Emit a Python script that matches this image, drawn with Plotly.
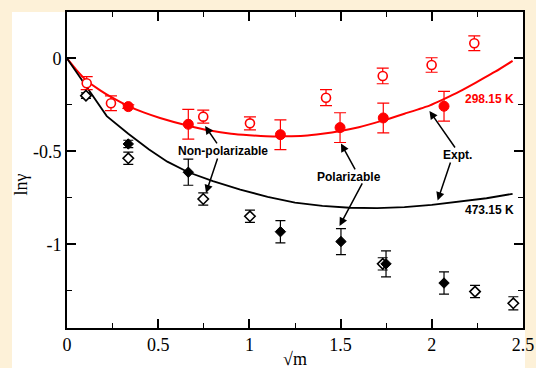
import plotly.graph_objects as go

# ---------------- data ----------------
# Non-polarizable, 298.15 K (red open circles)
np298_x = [0.108, 0.241, 0.747, 1.003, 1.42, 1.731, 1.999, 2.233]
np298_y = [-0.133, -0.241, -0.313, -0.349, -0.211, -0.094, -0.035, 0.082]
np298_err = [0.035, 0.04, 0.035, 0.035, 0.043, 0.042, 0.039, 0.04]

# Polarizable, 298.15 K (red filled circles)
p298_x = [0.336, 0.665, 1.17, 1.497, 1.734, 2.067]
p298_y = [-0.259, -0.354, -0.41, -0.372, -0.32, -0.257]
p298_err = [0.01, 0.08, 0.08, 0.08, 0.08, 0.08]

# Non-polarizable, 473.15 K (black open diamonds)
np473_x = [0.104, 0.336, 0.747, 1.003, 1.731, 2.237, 2.447]
np473_y = [-0.2, -0.537, -0.756, -0.849, -1.105, -1.254, -1.317]
np473_err = [0.015, 0.033, 0.033, 0.033, 0.033, 0.033, 0.035]

# Polarizable, 473.15 K (black filled diamonds)
p473_x = [0.336, 0.665, 1.17, 1.502, 1.749, 2.067]
p473_y = [-0.46, -0.612, -0.932, -0.985, -1.105, -1.208]
p473_err = [0.02, 0.07, 0.06, 0.07, 0.07, 0.06]

# Experimental curves
expt298_x = [0, 0.05, 0.108, 0.18, 0.241, 0.336, 0.42, 0.51, 0.665, 0.784, 0.9, 1.0,
             1.091, 1.2, 1.3, 1.4, 1.5, 1.6, 1.734, 1.85, 1.99, 2.063, 2.153, 2.25, 2.35, 2.443]
expt298_y = [0, -0.06, -0.12, -0.17, -0.207, -0.256, -0.29, -0.32, -0.362, -0.388, -0.405, -0.413,
             -0.418, -0.419, -0.416, -0.405, -0.39, -0.37, -0.333, -0.297, -0.252, -0.22, -0.177,
             -0.125, -0.07, -0.013]

expt473_x = [0, 0.218, 0.336, 0.45, 0.55, 0.665, 0.8, 0.95, 1.1, 1.25, 1.4, 1.55, 1.7,
             1.85, 2.0, 2.15, 2.3, 2.443]
expt473_y = [0, -0.31, -0.405, -0.49, -0.555, -0.612, -0.66, -0.705, -0.745, -0.775, -0.793,
             -0.803, -0.805, -0.8, -0.788, -0.772, -0.752, -0.728]

x_tickvals = [0, 0.5, 1, 1.5, 2, 2.5]
x_ticktext = ["0", "0.5", "1", "1.5", "2", "2.5"]
y_tickvals = [0, -0.5, -1]
y_ticktext = ["0", "-0.5", "-1"]

RED = "#ff0000"
BLACK = "#000000"
SERIF = "Liberation Serif, Times New Roman, serif"
SANS = "Liberation Sans, Arial, sans-serif"

fig = go.Figure()

fig.add_trace(go.Scatter(x=expt298_x, y=expt298_y, mode="lines",
                         line=dict(color=RED, width=2, shape="spline", smoothing=0.6),
                         showlegend=False, hoverinfo="skip"))
fig.add_trace(go.Scatter(x=expt473_x, y=expt473_y, mode="lines",
                         line=dict(color=BLACK, width=1.8),
                         showlegend=False, hoverinfo="skip"))

fig.add_trace(go.Scatter(x=np298_x, y=np298_y, mode="markers",
                         marker=dict(symbol="circle", size=9, color="white",
                                     line=dict(color=RED, width=1.6)),
                         error_y=dict(type="data", array=np298_err, color=RED,
                                      thickness=1.2, width=6),
                         showlegend=False))
fig.add_trace(go.Scatter(x=p298_x, y=p298_y, mode="markers",
                         marker=dict(symbol="circle", size=10, color=RED,
                                     line=dict(color=RED, width=1)),
                         error_y=dict(type="data", array=p298_err, color=RED,
                                      thickness=1.2, width=6),
                         showlegend=False))
fig.add_trace(go.Scatter(x=np473_x, y=np473_y, mode="markers",
                         marker=dict(symbol="diamond", size=8, color="white",
                                     line=dict(color=BLACK, width=1.6)),
                         error_y=dict(type="data", array=np473_err, color=BLACK,
                                      thickness=1.2, width=5),
                         showlegend=False))
fig.add_trace(go.Scatter(x=p473_x, y=p473_y, mode="markers",
                         marker=dict(symbol="diamond", size=8, color=BLACK,
                                     line=dict(color=BLACK, width=1)),
                         error_y=dict(type="data", array=p473_err, color=BLACK,
                                      thickness=1.2, width=5),
                         showlegend=False))

# arrows (tail -> tip) in data coordinates
arrows = [
    ((0.828, -0.465), (0.757, -0.363)),
    ((0.828, -0.53), (0.762, -0.724)),
    ((1.584, -0.605), (1.502, -0.457)),
    ((1.623, -0.664), (1.494, -0.901)),
    ((2.133, -0.487), (1.987, -0.282)),
    ((2.105, -0.551), (2.032, -0.764)),
]
for (tx, ty), (hx, hy) in arrows:
    fig.add_annotation(x=hx, y=hy, ax=tx, ay=ty, xref="x", yref="y", axref="x", ayref="y",
                       text="", showarrow=True, arrowhead=2, arrowsize=1.1,
                       arrowwidth=1.5, arrowcolor=BLACK, standoff=0, startstandoff=0)

labels = [
    ("Non-polarizable", 0.857, -0.496, BLACK),
    ("Polarizable", 1.548, -0.636, BLACK),
    ("Expt.", 2.142, -0.519, BLACK),
    ("298.15 K", 2.319, -0.216, RED),
    ("473.15 K", 2.319, -0.813, BLACK),
]
for txt, lx, ly, col in labels:
    fig.add_annotation(x=lx, y=ly, xref="x", yref="y", text="<b>%s</b>" % txt,
                       showarrow=False, font=dict(family=SANS, size=12, color=col),
                       xanchor="center", yanchor="middle", bgcolor="rgba(0,0,0,0)")

# axis titles
fig.add_annotation(x=-0.1, y=0.455, xref="paper", yref="paper", text="lnγ",
                   textangle=-90, showarrow=False,
                   font=dict(family=SERIF, size=18, color=BLACK),
                   xanchor="center", yanchor="middle")
fig.add_annotation(x=0.5, y=-0.097, xref="paper", yref="paper", text="√m",
                   showarrow=False, font=dict(family=SERIF, size=18, color=BLACK),
                   xanchor="center", yanchor="middle")

# white panel on cream background
fig.add_shape(type="rect", xref="paper", yref="paper", x0=-0.1206, x1=1.0044,
              y0=-0.2, y1=1.0, fillcolor="white", line=dict(width=0), layer="below")

axis_common = dict(showline=True, linecolor=BLACK, linewidth=1.6, mirror="allticks",
                   ticks="inside", ticklen=9, tickwidth=1.6, tickcolor=BLACK,
                   showgrid=False, zeroline=False, automargin=False,
                   tickfont=dict(family=SERIF, size=18, color=BLACK))

fig.update_xaxes(range=[0, 2.5], tickvals=x_tickvals, ticktext=x_ticktext,
                 minor=dict(ticks="inside", ticklen=5, tickwidth=1.4, tickcolor=BLACK,
                            dtick=0.25, tick0=0, showgrid=False),
                 **axis_common)
fig.update_yaxes(range=[-1.45, 0.25], tickvals=y_tickvals, ticktext=y_ticktext,
                 minor=dict(ticks="inside", ticklen=5, tickwidth=1.4, tickcolor=BLACK,
                            dtick=0.25, tick0=0, showgrid=False),
                 **axis_common)

fig.update_layout(width=536, height=368,
                  margin=dict(l=67, r=13, t=12, b=40, pad=0, autoexpand=False),
                  paper_bgcolor="#fdf1d8", plot_bgcolor="white",
                  showlegend=False)

fig.write_html("out.html", config={"displayModeBar": False},
               post_script="document.body.style.margin='0';"
                           "document.body.style.overflow='hidden';"
                           "document.documentElement.style.overflow='hidden';")
